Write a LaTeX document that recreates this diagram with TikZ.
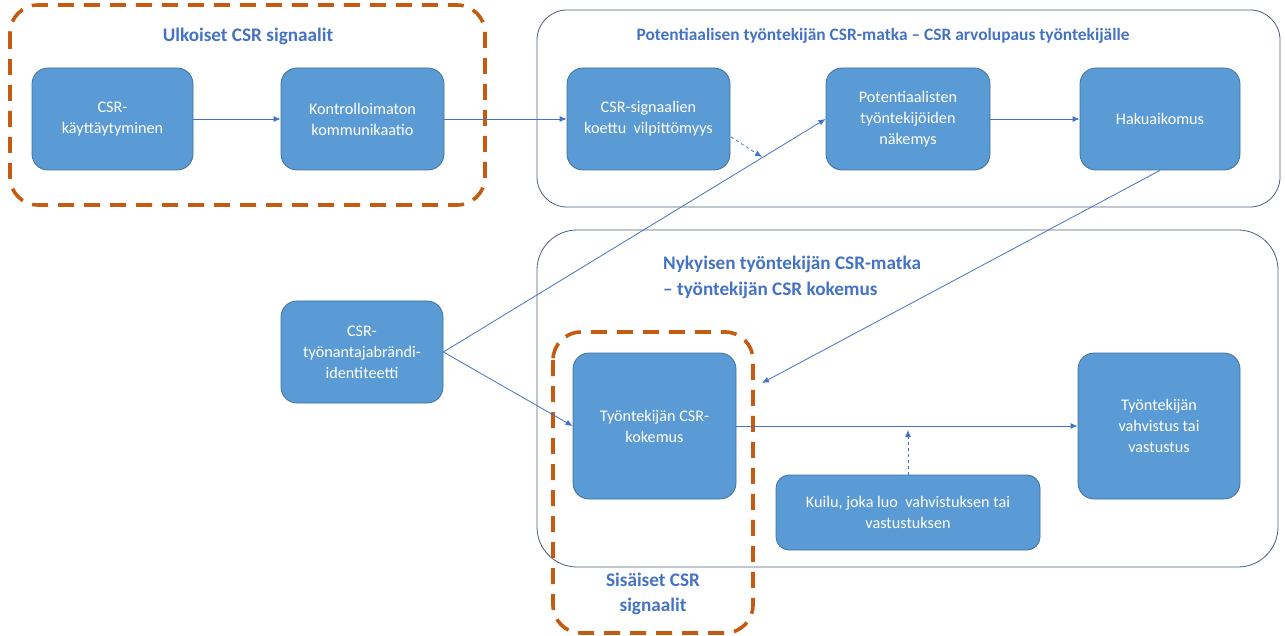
\documentclass[tikz,border=0pt]{standalone}
\usepackage{fontspec}
\setmainfont{Carlito}
\usetikzlibrary{arrows.meta}
\definecolor{boxfill}{HTML}{5B9BD5}
\definecolor{boxline}{HTML}{41719C}
\definecolor{titleblue}{HTML}{4472C4}
\definecolor{arrowblue}{HTML}{4472C4}
\definecolor{frameline}{HTML}{4F5F78}
\definecolor{signalorange}{HTML}{C55A11}
\tikzset{
  stagebox/.style={draw=boxline, line width=0.8pt, fill=boxfill, rounded corners=16pt,
    text=white, align=center, inner sep=4pt,
    font=\fontsize{16.2}{21}\selectfont},
  journeyframe/.style={draw=frameline, line width=0.8pt, rounded corners=30pt},
  signalframe/.style={draw=signalorange, line width=3.6pt, dash pattern=on 16pt off 10pt, rounded corners=28pt},
  heading/.style={text=titleblue, font=\fontsize{17.4}{25}\selectfont\bfseries, inner sep=0pt},
  bigheading/.style={heading, font=\fontsize{19.2}{25.5}\selectfont\bfseries},
  flow/.style={draw=arrowblue, line width=0.8pt, -{Latex[length=7pt,width=6pt]}},
  weakflow/.style={flow, dashed},
}
\begin{document}
\begin{tikzpicture}[x=1pt,y=-1pt]
\useasboundingbox (0,0) rectangle (1285,636);

% journey frames
\draw[journeyframe] (537,10) rectangle (1280,207);
\draw[journeyframe, rounded corners=40pt] (537,230) rectangle (1278,567);

% headings
\node[bigheading] (tulk) at (248,36) {Ulkoiset CSR signaalit};
\node[heading] (tpot) at (883,36) {Potentiaalisen työntekijän CSR-matka – CSR arvolupaus työntekijälle};
\node[bigheading, anchor=base west] (tnyk1) at (663,270) {Nykyisen työntekijän CSR-matka};
\node[bigheading, anchor=base west] (tnyk2) at (663,296) {– työntekijän CSR kokemus};
\node[bigheading, align=center] (tsis) at (653,594) {Sisäiset CSR\\signaalit};

% stages
\node[stagebox, minimum width=161pt, minimum height=102pt] (kay) at (112.5,119) {CSR-\\käyttäytyminen};
\node[stagebox, minimum width=163pt, minimum height=102pt] (kon) at (362.5,119) {Kontrolloimaton\\kommunikaatio};
\node[stagebox, minimum width=163pt, minimum height=102pt] (sig) at (648.5,119) {CSR-signaalien\\koettu\ \ vilpittömyys};
\node[stagebox, minimum width=164pt, minimum height=102pt] (pot) at (908,119) {Potentiaalisten\\työntekijöiden\\näkemys};
\node[stagebox, minimum width=160pt, minimum height=102pt] (hak) at (1160,119) {Hakuaikomus};
\node[stagebox, minimum width=162pt, minimum height=102pt] (bra) at (362,352) {CSR-\\työnantajabrändi-\\identiteetti};
\node[stagebox, minimum width=163pt, minimum height=146pt] (kok) at (654.5,426) {Työntekijän CSR-\\kokemus};
\node[stagebox, minimum width=162pt, minimum height=146pt] (vah) at (1159,426) {Työntekijän\\vahvistus tai\\vastustus};
\node[stagebox, minimum width=264pt, minimum height=75pt, rounded corners=13pt] (kui) at (908,512.5) {Kuilu, joka luo\ \ vahvistuksen tai\\vastustuksen};

% signal groupings
\draw[signalframe] (10,5) rectangle (485,205);
\draw[signalframe] (553,332) rectangle (753,633);

% free ends of connectors
\coordinate (sigend) at (762,157);
\coordinate (kokin) at (762,383);
\coordinate (gapend) at (908,430);

% connectors
\draw[flow] (kay.east) -- (kon.west);
\draw[flow] (kon.east) -- (sig.west);
\draw[weakflow] (731,137) -- (sigend);
\draw[flow] (bra.east) -- (pot.west);
\draw[flow] (pot.east) -- (hak.west);
\draw[flow] (bra.east) -- (kok.west);
\draw[flow] (hak.south) -- (kokin);
\draw[flow] (kok.east) -- (vah.west);
\draw[weakflow] (kui.north) -- (gapend);
\end{tikzpicture}
\end{document}
